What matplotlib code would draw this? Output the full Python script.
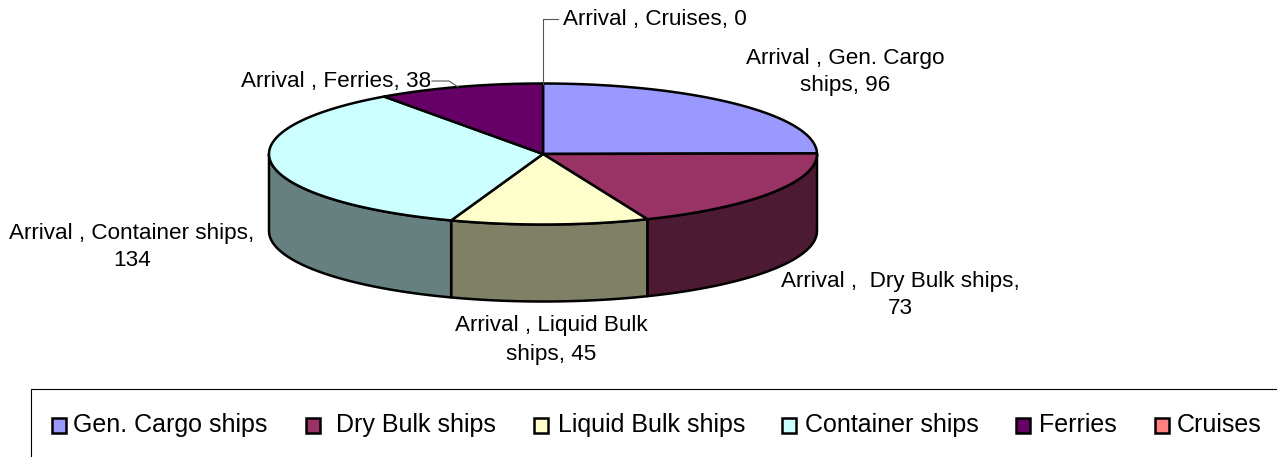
import numpy as np
import matplotlib
matplotlib.use("Agg")
import matplotlib.pyplot as plt
from matplotlib.patches import Polygon, Rectangle

plt.rcParams["font.family"] = ["Liberation Sans", "DejaVu Sans"]

categories = ["Gen. Cargo ships", "Dry Bulk ships", "Liquid Bulk ships",
              "Container ships", "Ferries", "Cruises"]
arrivals = [96, 73, 45, 134, 38, 0]
colors = ["#9999FF", "#993366", "#FFFFCC", "#CCFFFF", "#660066", "#FF8080"]
side_colors = ["#4D4D80", "#4D1A33", "#808066", "#668080", "#330033", "#804040"]
label_texts = ["Arrival , Gen. Cargo\nships, {}", "Arrival ,  Dry Bulk ships,\n{}",
               "Arrival , Liquid Bulk\nships, {}", "Arrival , Container ships,\n{}",
               "Arrival , Ferries, {}", "Arrival , Cruises, {}"]

# pie geometry in image pixels
cx, cy = 543, 154
rx, ry = 274, 70.5
depth = 77
label_size = 16.2
legend_size = 18.0


def ellipse_points(start, stop, drop=0):
    t = np.radians(np.linspace(start, stop, 200))
    return np.column_stack([cx + rx * np.cos(t), cy + drop + ry * np.sin(t)])


fig = plt.figure(figsize=(12.77, 4.57), dpi=100)
ax = fig.add_axes([0, 0, 1, 1])
ax.set_xlim(0, 1277)
ax.set_ylim(457, 0)
ax.axis("off")

# angles run clockwise on screen, which is positive here because y is flipped
edges = np.cumsum([0] + arrivals) / sum(arrivals) * 360 - 90

# side wall first, only the part that faces the viewer (0 to 180 degrees)
for start, stop, side in zip(edges[:-1], edges[1:], side_colors):
    a, b = max(start, 0), min(stop, 180)
    if b <= a:
        continue
    top = ellipse_points(a, b)
    bottom = ellipse_points(b, a, depth)
    ax.add_patch(Polygon(np.vstack([top, bottom]), closed=True, facecolor=side,
                         edgecolor="black", linewidth=1.8, joinstyle="round"))

for start, stop, color in zip(edges[:-1], edges[1:], colors):
    if stop <= start:
        continue
    pts = np.vstack([[cx, cy], ellipse_points(start, stop)])
    ax.add_patch(Polygon(pts, closed=True, facecolor=color,
                         edgecolor="black", linewidth=1.8, joinstyle="round"))

# leader lines
ax.plot([543, 543, 558], [84, 19, 19], color="#555555", lw=0.8)
ax.plot([432, 449, 458], [81, 81, 87], color="#555555", lw=0.8)

# data labels
label_pos = [(845, 72, "center"), (900, 295, "center"), (551, 340, "center"),
             (132, 247, "center"), (431, 82, "right"), (563, 19, "left")]
spacing = [1.35, 1.35, 1.5, 1.35, 1.35, 1.35]
for tmpl, value, (x, y, ha), ls in zip(label_texts, arrivals, label_pos, spacing):
    ax.text(x, y, tmpl.format(value), ha=ha, va="center", ma="center",
            fontsize=label_size, color="black", linespacing=ls)

# legend frame runs off the right and bottom of the image
ax.plot([1276, 31, 31], [389, 389, 457], color="black", lw=0.8)

swatch_x = [52, 306, 534, 782, 1016, 1155]
text_x = [73, 336, 558, 805, 1039, 1177]
for name, color, sx, tx in zip(categories, colors, swatch_x, text_x):
    ax.add_patch(Rectangle((sx, 418), 14, 15, facecolor=color,
                           edgecolor="black", linewidth=1.8))
    ax.text(tx, 425, name, ha="left", va="center", fontsize=legend_size, color="black")

fig.savefig("out.png", dpi=100)
